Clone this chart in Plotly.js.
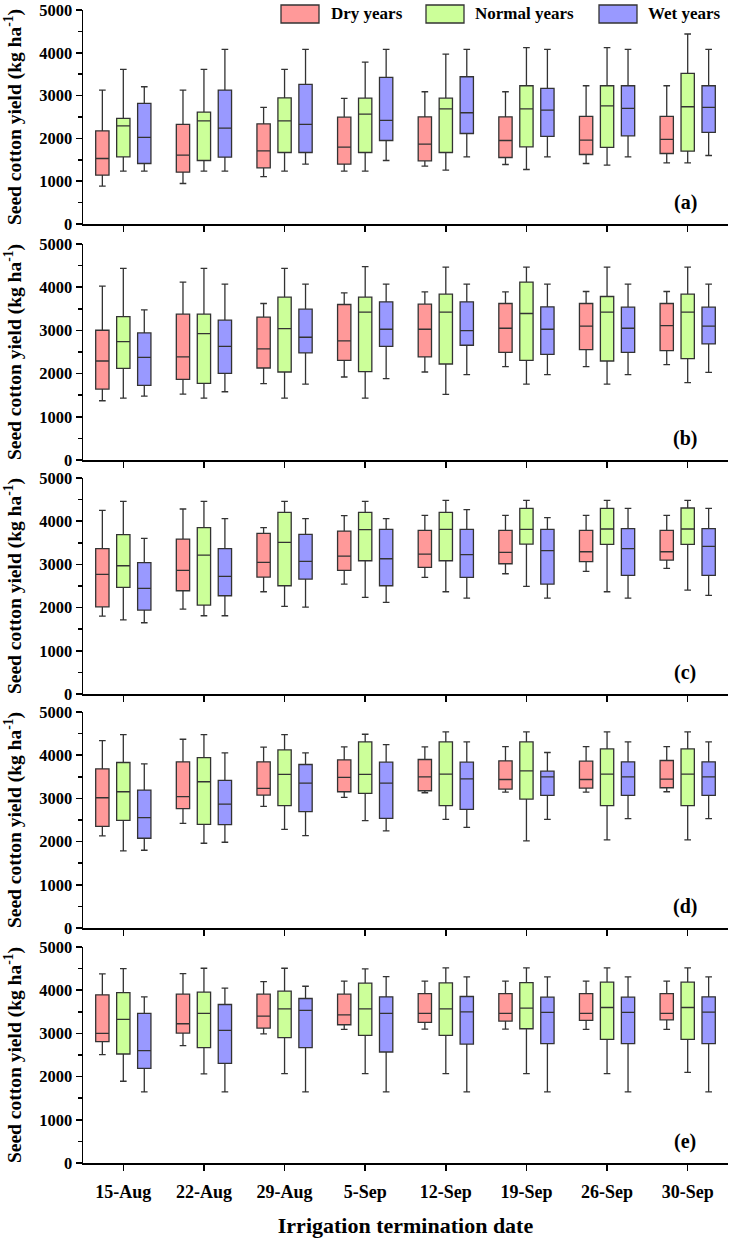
<!DOCTYPE html>
<html><head><meta charset="utf-8">
<script src="https://cdn.plot.ly/plotly-3.0.1.min.js"></script>
<style>body{margin:0;background:#fff}</style>
</head><body><div id="chart" style="width:739px;height:1240px"></div>
<script>
const dates = ['15-Aug','22-Aug','29-Aug','5-Sep','12-Sep','19-Sep','26-Sep','30-Sep'];
const seriesNames = ['Dry years','Normal years','Wet years'];
const seriesColors = ['#FF9999','#CCFF99','#9999FF'];
const panelLabels = ['(a)','(b)','(c)','(d)','(e)'];
const yTitle = 'Seed cotton yield (kg ha<sup>-1</sup>)';
const xTitle = 'Irrigation termination date';

// Panel (a)
const aDryLo  = [883, 946, 1109, 1234, 1351, 1390, 1413, 1429];
const aDryQ1  = [1140, 1211, 1312, 1398, 1476, 1554, 1624, 1647];
const aDryMed = [1530, 1608, 1710, 1795, 1866, 1951, 1959, 1975];
const aDryQ3  = [2178, 2326, 2341, 2497, 2505, 2505, 2513, 2513];
const aDryHi  = [3129, 3129, 2723, 2934, 3090, 3090, 3230, 3230];
const aNorLo  = [1234, 1234, 1234, 1234, 1257, 1273, 1374, 1429];
const aNorQ1  = [1569, 1484, 1671, 1671, 1671, 1803, 1788, 1702];
const aNorMed = [2294, 2411, 2411, 2567, 2692, 2692, 2762, 2739];
const aNorQ3  = [2466, 2614, 2949, 2941, 2941, 3230, 3230, 3519];
const aNorHi  = [3612, 3612, 3612, 3784, 3971, 4119, 4119, 4439];
const aWetLo  = [1234, 1234, 1398, 1484, 1569, 1569, 1569, 1601];
const aWetQ1  = [1413, 1562, 1671, 1951, 2115, 2045, 2061, 2139];
const aWetMed = [2022, 2240, 2326, 2419, 2599, 2661, 2700, 2723];
const aWetQ3  = [2817, 3129, 3261, 3425, 3441, 3168, 3230, 3230];
const aWetHi  = [3207, 4080, 4080, 4080, 4080, 4080, 4080, 4080];

// Panel (b)
const bDryLo  = [1371, 1526, 1766, 1921, 2037, 2161, 2161, 2207];
const bDryQ1  = [1642, 1867, 2130, 2308, 2385, 2493, 2555, 2532];
const bDryMed = [2292, 2385, 2571, 2756, 3027, 3050, 3097, 3112];
const bDryQ3  = [3004, 3375, 3306, 3600, 3607, 3623, 3623, 3623];
const bDryHi  = [4025, 4118, 3623, 3870, 3894, 3894, 3901, 3901];
const bNorLo  = [1433, 1433, 1433, 1433, 1518, 1758, 1758, 1789];
const bNorQ1  = [2122, 1774, 2037, 2044, 2222, 2308, 2292, 2346];
const bNorMed = [2741, 2926, 3043, 3422, 3422, 3391, 3422, 3422];
const bNorQ3  = [3321, 3375, 3770, 3770, 3839, 4118, 3785, 3839];
const bNorHi  = [4435, 4435, 4435, 4474, 4466, 4466, 4466, 4466];
const bWetLo  = [1480, 1580, 1758, 1882, 1975, 1975, 1975, 2029];
const bWetQ1  = [1727, 2006, 2478, 2632, 2656, 2447, 2493, 2687];
const bWetMed = [2377, 2632, 2841, 3027, 2996, 3027, 3050, 3097];
const bWetQ3  = [2942, 3236, 3491, 3661, 3661, 3545, 3538, 3538];
const bWetHi  = [3476, 4072, 4072, 4072, 4072, 4072, 4072, 4072];

// Panel (c)
const cDryLo  = [1803, 1965, 2367, 2544, 2699, 2784, 2838, 2907];
const cDryQ1  = [2019, 2390, 2707, 2861, 2931, 3015, 3062, 3100];
const cDryMed = [2768, 2861, 3046, 3193, 3239, 3278, 3293, 3293];
const cDryQ3  = [3363, 3587, 3718, 3772, 3788, 3788, 3788, 3788];
const cDryHi  = [4251, 4282, 3849, 4127, 4135, 4135, 4135, 4135];
const cNorLo  = [1718, 1811, 2027, 2236, 2367, 2490, 2367, 2405];
const cNorQ1  = [2467, 2058, 2506, 3085, 3085, 3471, 3463, 3463];
const cNorMed = [2969, 3216, 3510, 3803, 3811, 3811, 3819, 3819];
const cNorQ3  = [3687, 3849, 4205, 4205, 4205, 4297, 4297, 4305];
const cNorHi  = [4459, 4459, 4459, 4459, 4483, 4483, 4483, 4483];
const cWetLo  = [1649, 1811, 2012, 2120, 2220, 2220, 2220, 2282];
const cWetQ1  = [1942, 2274, 2660, 2506, 2699, 2544, 2745, 2745];
const cWetMed = [2444, 2722, 3069, 3131, 3224, 3317, 3363, 3417];
const cWetQ3  = [3039, 3363, 3695, 3811, 3811, 3811, 3826, 3826];
const cWetHi  = [3602, 4058, 4058, 4058, 4266, 4081, 4297, 4297];

// Panel (d)
const dDryLo  = [2131, 2423, 2815, 3023, 3131, 3146, 3146, 3154];
const dDryQ1  = [2354, 2762, 3077, 3154, 3177, 3215, 3238, 3246];
const dDryMed = [3015, 3039, 3231, 3485, 3500, 3438, 3438, 3446];
const dDryQ3  = [3685, 3846, 3846, 3892, 3900, 3869, 3862, 3877];
const dDryHi  = [4338, 4369, 4185, 4192, 4192, 4200, 4200, 4200];
const dNorLo  = [1785, 1962, 2285, 2485, 2515, 2015, 2038, 2038];
const dNorQ1  = [2492, 2400, 2831, 3115, 2831, 2985, 2831, 2831];
const dNorMed = [3154, 3385, 3554, 3554, 3562, 3638, 3562, 3562];
const dNorQ3  = [3831, 3946, 4123, 4308, 4308, 4308, 4146, 4146];
const dNorHi  = [4477, 4477, 4477, 4485, 4538, 4538, 4538, 4538];
const dWetLo  = [1800, 1985, 2138, 2246, 2331, 2515, 2531, 2531];
const dWetQ1  = [2077, 2392, 2692, 2538, 2746, 3069, 3069, 3069];
const dWetMed = [2554, 2869, 3354, 3354, 3454, 3500, 3500, 3500];
const dWetQ3  = [3192, 3415, 3785, 3838, 3838, 3631, 3846, 3846];
const dWetHi  = [3800, 4054, 4054, 4246, 4308, 4062, 4308, 4308];

// Panel (e)
const eDryLo  = [2508, 2715, 2990, 3092, 3100, 3100, 3092, 3092];
const eDryQ1  = [2808, 3008, 3123, 3200, 3254, 3285, 3300, 3315];
const eDryMed = [3000, 3223, 3400, 3431, 3462, 3462, 3462, 3462];
const eDryQ3  = [3892, 3908, 3908, 3908, 3923, 3923, 3923, 3923];
const eDryHi  = [4377, 4385, 4200, 4208, 4208, 4208, 4208, 4208];
const eNorLo  = [1892, 2062, 2069, 2069, 2069, 2069, 2069, 2100];
const eNorQ1  = [2523, 2669, 2900, 2954, 2954, 3108, 2862, 2862];
const eNorMed = [3323, 3462, 3569, 3569, 3569, 3585, 3600, 3600];
const eNorQ3  = [3946, 3954, 3977, 4162, 4169, 4177, 4185, 4185];
const eNorHi  = [4500, 4508, 4508, 4492, 4515, 4515, 4515, 4515];
const eWetLo  = [1646, 1646, 1646, 1646, 1646, 1646, 1646, 1646];
const eWetQ1  = [2192, 2308, 2669, 2569, 2754, 2762, 2762, 2762];
const eWetMed = [2600, 3069, 3531, 3462, 3500, 3485, 3485, 3492];
const eWetQ3  = [3462, 3669, 3808, 3846, 3854, 3839, 3839, 3846];
const eWetHi  = [3846, 4046, 4092, 4315, 4308, 4308, 4308, 4308];

const panels = [
  [[aDryLo,aDryQ1,aDryMed,aDryQ3,aDryHi],[aNorLo,aNorQ1,aNorMed,aNorQ3,aNorHi],[aWetLo,aWetQ1,aWetMed,aWetQ3,aWetHi]],
  [[bDryLo,bDryQ1,bDryMed,bDryQ3,bDryHi],[bNorLo,bNorQ1,bNorMed,bNorQ3,bNorHi],[bWetLo,bWetQ1,bWetMed,bWetQ3,bWetHi]],
  [[cDryLo,cDryQ1,cDryMed,cDryQ3,cDryHi],[cNorLo,cNorQ1,cNorMed,cNorQ3,cNorHi],[cWetLo,cWetQ1,cWetMed,cWetQ3,cWetHi]],
  [[dDryLo,dDryQ1,dDryMed,dDryQ3,dDryHi],[dNorLo,dNorQ1,dNorMed,dNorQ3,dNorHi],[dWetLo,dWetQ1,dWetMed,dWetQ3,dWetHi]],
  [[eDryLo,eDryQ1,eDryMed,eDryQ3,eDryHi],[eNorLo,eNorQ1,eNorMed,eNorQ3,eNorHi],[eWetLo,eWetQ1,eWetMed,eWetQ3,eWetHi]]
];

// ---- layout geometry (pixels) ----
const W = 739, H = 1240;
const PL = 83, PR = 728, PT = 10, PB = 1163;
const panelTop = [10, 244, 478, 712, 947];
const panelBot = [224, 460, 694, 928, 1163];
const px2x = p => (p - PL) / (PR - PL);
const px2y = p => (PB - p) / (PB - PT);

const FONT = '"Liberation Serif", "Times New Roman", serif';
const traces = [];
const layout = {
  width: W, height: H,
  margin: {l: PL, r: W - PR, t: PT, b: H - PB},
  paper_bgcolor: '#fff', plot_bgcolor: '#fff',
  boxmode: 'group', boxgap: 0.22, boxgroupgap: 0.365,
  showlegend: false,
  font: {family: FONT, color: '#000'},
  shapes: [], annotations: []
};

panels.forEach((pan, i) => {
  const n = i === 0 ? '' : String(i + 1);
  const last = i === panels.length - 1;
  pan.forEach((s, k) => {
    traces.push({
      type: 'box', name: seriesNames[k], x: dates,
      lowerfence: s[0], q1: s[1], median: s[2], q3: s[3], upperfence: s[4],
      xaxis: 'x' + n, yaxis: 'y' + n,
      alignmentgroup: 'panel' + i, offsetgroup: 'series' + k,
      fillcolor: seriesColors[k], line: {color: '#333333', width: 1.3},
      whiskerwidth: 0.5, boxpoints: false, showlegend: false, hoverinfo: 'y'
    });
  });
  const xa = {
    type: 'category', range: [-0.5, 7.5], domain: [0, 1], anchor: 'y' + n,
    showline: true, linecolor: '#000', linewidth: 1.5,
    ticks: 'outside', ticklen: 6, tickwidth: 1.5, tickcolor: '#000',
    showgrid: false, zeroline: false, showticklabels: last,
    tickfont: {family: FONT, size: 18, weight: 'bold', color: '#000'}
  };
  if (last) {
    xa.ticklabelstandoff = 6;
    xa.title = {text: xTitle, font: {family: FONT, size: 22, weight: 'bold', color: '#000'}, standoff: 16};
  }
  layout['xaxis' + n] = xa;
  layout['yaxis' + n] = {
    range: [0, 5000], domain: [px2y(panelBot[i]), px2y(panelTop[i])], anchor: 'x' + n,
    tick0: 0, dtick: 1000,
    showline: true, linecolor: '#000', linewidth: 1.5,
    ticks: 'outside', ticklen: 6, tickwidth: 1.5, tickcolor: '#000',
    minor: {dtick: 500, ticks: 'outside', ticklen: 3.5, tickwidth: 1.5, tickcolor: '#000', showgrid: false},
    showgrid: false, zeroline: false,
    tickfont: {family: FONT, size: 16.5, weight: 'bold', color: '#000'},
    title: {text: yTitle, font: {family: FONT, size: 19.5, weight: 'bold', color: '#000'}, standoff: 12}
  };
  layout.annotations.push({
    text: '<b>' + panelLabels[i] + '</b>', xref: 'paper', yref: 'y' + n + ' domain',
    x: px2x(685), y: 0.1, xanchor: 'center', yanchor: 'middle', showarrow: false,
    font: {family: FONT, size: 20, color: '#000'}
  });
});

// custom legend
const legRect = [[281, 319], [426, 464], [599, 637]];
const legTextX = [329, 473, 646];
seriesNames.forEach((nm, k) => {
  layout.shapes.push({
    type: 'rect', xref: 'paper', yref: 'paper',
    x0: px2x(legRect[k][0]), x1: px2x(legRect[k][1]), y0: px2y(23), y1: px2y(5),
    fillcolor: seriesColors[k], line: {color: '#333333', width: 1.3}
  });
  layout.annotations.push({
    text: '<b>' + nm + '</b>', xref: 'paper', yref: 'paper',
    x: px2x(legTextX[k]), y: px2y(14), xanchor: 'left', yanchor: 'middle', showarrow: false,
    font: {family: FONT, size: 17, color: '#000'}
  });
});

Plotly.newPlot('chart', traces, layout, {displayModeBar: false, staticPlot: true});
</script></body></html>
